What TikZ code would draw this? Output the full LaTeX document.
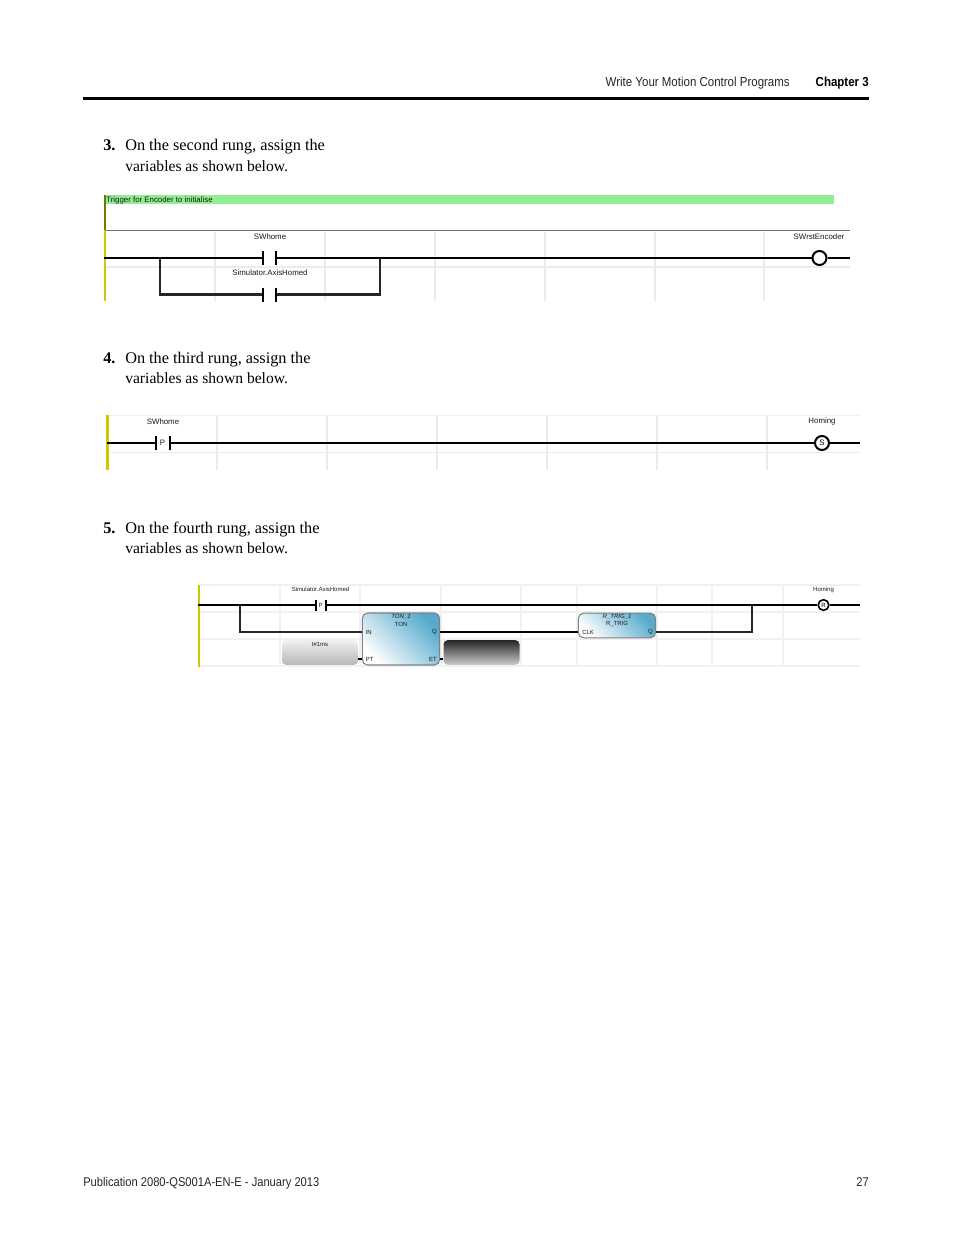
\documentclass[tikz,border=0pt]{standalone}
\usepackage{fontspec}
\setmainfont{Liberation Serif}
\setsansfont{Liberation Sans}
\newfontfamily\headfont[FakeStretch=0.88]{Liberation Sans}
\usetikzlibrary{calc}
\definecolor{gridgray}{gray}{0.92}
\definecolor{notegreen}{RGB}{144,238,144}
\definecolor{railyellow}{RGB}{205,200,0}
\definecolor{railolive}{RGB}{120,115,10}
\definecolor{blockblue}{RGB}{85,170,205}
\newcommand{\bodysize}{\fontsize{12.2}{14}\selectfont}
\newcommand{\bodysmall}{\fontsize{11.7}{14}\selectfont}
\newcommand{\headsize}{\fontsize{9.8}{11}\selectfont\headfont}
\newcommand{\footsize}{\fontsize{9.5}{11}\selectfont\headfont}
\newcommand{\labsize}{\fontsize{5.9}{6.5}\selectfont\sffamily}
\newcommand{\tinysize}{\fontsize{4.5}{5}\selectfont\sffamily}
\tikzset{
  wire/.style = {line width = 1.7pt, black},
  branch/.style = {line width = 1.7pt, black!85},
  thin wire/.style = {line width = 1.2pt, black},
  grid line/.style = {line width = 1pt, gridgray},
  pale line/.style = {line width = 0.8pt, gridgray!70},
  rail/.style = {line width = 1.6pt, railyellow},
  bar/.style = {line width = 1.6pt, black},
  coil/.style = {circle, draw, line width = 1.5pt, fill = white, inner sep = 0pt},
  label/.style = {inner sep = 0pt, text = black!90},
  body/.style = {anchor = base west, inner sep = 0pt, font = \bodysize},
  block/.style = {draw = black!50, line width = 0.8pt, rounded corners = 4pt, left color = white, right color = blockblue, shading angle = 135}
}
\begin{document}
\begin{tikzpicture}[x = 0.75pt, y = -0.75pt]
\useasboundingbox (0,0) rectangle (954,1235);

% page head
\node[anchor = base east, inner sep = 0pt, font = \headsize, text = black!85] (headtitle) at (790,86.5) {Write Your Motion Control Programs};
\node[anchor = base east, inner sep = 0pt, font = \headsize\bfseries] (headchapter) at (869,86.5) {Chapter 3};
\fill (83,97) rectangle (869,100);

% step 3
\node[body, font = \bodysize\bfseries] (numthree) at (103,150) {3.};
\node[body] (stepthreea) at (125,150) {On the second rung, assign the};
\node[body, font = \bodysmall] (stepthreeb) at (125,171) {variables as shown below.};

\foreach \x in {215,325,435,545,655,764}
  \draw[grid line] (\x,232)--(\x,301);
\draw[grid line] (105,267)--(850,267);
\fill[notegreen] (106,195) rectangle (834,204);
\node[label, anchor = west, font = \labsize] (note) at (106,200) {Trigger for Encoder to initialise};
\draw[black!55, line width = 0.7pt] (105,230.5)--(850,230.5);
\draw[rail] (105,230)--(105,301);
\draw[rail, railolive] (105,195)--(105,230);

\node[label, font = \labsize] (swhome) at (270,236.5) {SWhome};
\node[label, font = \labsize] (axishomed) at (270,272.5) {Simulator.AxisHomed};
\node[label, font = \labsize] (swrst) at (819,236.5) {SWrstEncoder};

\coordinate (raila) at (104,258);
\coordinate (conaleft) at (263,258);
\coordinate (conaright) at (276,258);
\coordinate (conbleft) at (263,294.5);
\coordinate (conbright) at (276,294.5);
\coordinate (juna) at (160,258);
\coordinate (junb) at (380,258);
\coordinate (enda) at (850,258);
\node[coil, minimum size = 10.5pt] (coila) at (819.5,258) {};

\draw[wire] (raila)--(conaleft);
\draw[wire] (conaright)--(coila);
\draw[wire] (coila)--(enda);
\draw[branch] (juna)|-(conbleft);
\draw[branch] (junb)|-(conbright);
\foreach \c in {conaleft,conaright,conbleft,conbright}
  \draw[bar] ($(\c)+(0,-7)$)--($(\c)+(0,7)$);

% step 4
\node[body, font = \bodysize\bfseries] (numfour) at (103,363) {4.};
\node[body] (stepfoura) at (125,363) {On the third rung, assign the};
\node[body, font = \bodysmall] (stepfourb) at (125,383) {variables as shown below.};

\foreach \x in {217,327,437,547,657,767}
  \draw[grid line] (\x,415)--(\x,470);
\draw[pale line] (107,415.5)--(860,415.5);
\draw[grid line] (107,452.5)--(860,452.5);
\draw[rail] (107.5,415)--(107.5,470);

\node[label, font = \labsize] (swhometwo) at (163,421.5) {SWhome};
\node[label, font = \labsize] (homingtwo) at (822,421.5) {Homing};
\node[label, font = \labsize] (ptwo) at (162.5,443) {P};

\coordinate (railb) at (107,443);
\coordinate (conpleft) at (156,443);
\coordinate (conpright) at (170,443);
\coordinate (endb) at (860,443);
\node[coil, minimum size = 10.5pt, font = \labsize] (coilb) at (822,443) {S};

\draw[wire] (railb)--(conpleft);
\draw[wire] (conpright)--(coilb);
\draw[wire] (coilb)--(endb);
\foreach \c in {conpleft,conpright}
  \draw[bar] ($(\c)+(0,-7)$)--($(\c)+(0,7)$);

% step 5
\node[body, font = \bodysize\bfseries] (numfive) at (103,533) {5.};
\node[body] (stepfivea) at (125,533) {On the fourth rung, assign the};
\node[body, font = \bodysmall] (stepfiveb) at (125,553) {variables as shown below.};

\foreach \x in {280,360,441,521,577,657,712,783}
  \draw[pale line] (\x,585)--(\x,666);
\foreach \y in {585,612,639,666}
  \draw[pale line] (199,\y)--(860,\y);
\draw[rail] (199,585)--(199,667);

\node[label, font = \tinysize] (axistwo) at (320.5,589.5) {Simulator.AxisHomed};
\node[label, font = \tinysize] (homingthree) at (823.5,589.5) {Homing};
\node[label, font = \tinysize] (pthree) at (320.5,605) {P};

\node[rounded corners = 3pt, top color = black!6, bottom color = black!28, minimum width = 57pt, minimum height = 18.5pt, inner sep = 0pt] (constbox) at (320,652.5) {};
\node[label, font = \tinysize] (ptval) at (320,644) {t\#1ms};
\node[rounded corners = 3pt, top color = black!85, bottom color = black!20, minimum width = 57pt, minimum height = 18.5pt, inner sep = 0pt] (etbox) at (481.5,652.5) {};

\node[block, minimum width = 58pt, minimum height = 39pt, inner sep = 0pt] (ton) at (401,639) {};
\node[block, minimum width = 58pt, minimum height = 18.5pt, inner sep = 0pt] (rtrig) at (617,625.5) {};
\node[label, font = \tinysize\itshape] (tonname) at (401,617) {TON\_1};
\node[label, font = \tinysize] (tontype) at (401,624) {TON};
\node[label, font = \tinysize\itshape] (rtrigname) at (617,617) {R\_TRIG\_1};
\node[label, font = \tinysize] (rtrigtype) at (617,624) {R\_TRIG};
\node[label, anchor = west, font = \tinysize] (tonin) at (365.5,632) {IN};
\node[label, anchor = east, font = \tinysize] (tonq) at (437,632) {Q};
\node[label, anchor = west, font = \tinysize] (tonpt) at (365.5,659) {PT};
\node[label, anchor = east, font = \tinysize] (tonet) at (437,659) {ET};
\node[label, anchor = west, font = \tinysize] (rtrigclk) at (582,632) {CLK};
\node[label, anchor = east, font = \tinysize] (rtrigq) at (653,632) {Q};

\coordinate (railc) at (198,605);
\coordinate (conrleft) at (316,605);
\coordinate (conrright) at (326,605);
\coordinate (junc) at (240,605);
\coordinate (jund) at (752,605);
\coordinate (endc) at (860,605);
\coordinate (tonleft) at (ton.west |- tonin);
\coordinate (tonright) at (ton.east |- tonq);
\coordinate (clkleft) at (rtrig.west |- rtrigclk);
\coordinate (rqright) at (rtrig.east |- rtrigq);
\node[coil, minimum size = 8pt, line width = 1.2pt, font = \tinysize] (coilc) at (823.5,605) {R};

\draw[thin wire] (railc)--(conrleft);
\draw[thin wire] (conrright)--(coilc);
\draw[thin wire] (coilc)--(endc);
\draw[thin wire, black!85, line width = 1.4pt] (junc)|-(tonleft);
\draw[thin wire] (tonright)--(clkleft);
\draw[thin wire, black!85, line width = 1.4pt] (rqright)-|(jund);
\foreach \c in {conrleft,conrright}
  \draw[thin wire] ($(\c)+(0,-5.5)$)--($(\c)+(0,5.5)$);
\draw[thin wire, line width = 0.9pt] (constbox.east |- tonpt)--(ton.west |- tonpt);
\draw[thin wire, line width = 0.9pt] (ton.east |- tonet)--(etbox.west |- tonet);

% page foot
\node[anchor = base west, inner sep = 0pt, font = \footsize, text = black!85] (footpub) at (83,1186) {Publication 2080-QS001A-EN-E - January 2013};
\node[anchor = base east, inner sep = 0pt, font = \footsize, text = black!85] (footpage) at (869,1186) {27};
\end{tikzpicture}
\end{document}
